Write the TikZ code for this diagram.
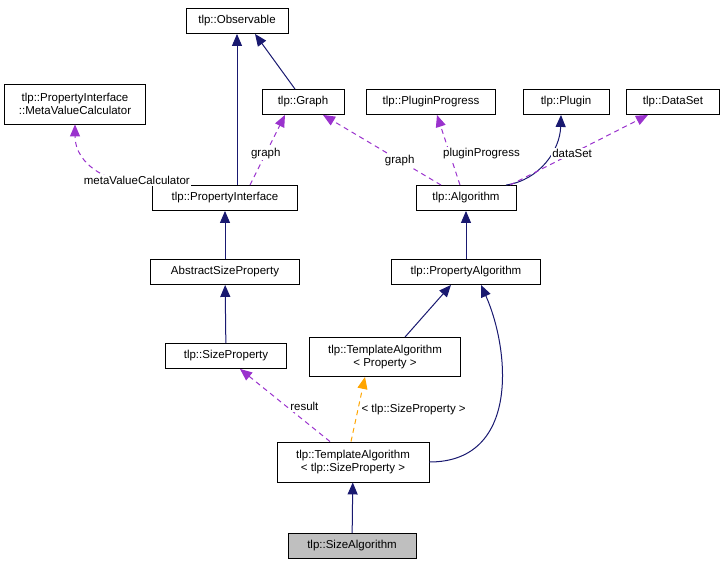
\documentclass[tikz,border=0pt]{standalone}
\usepackage{fontspec}
\setmainfont{Liberation Sans}
\usetikzlibrary{arrows.meta}
\begin{document}
\begin{tikzpicture}[x=1pt,y=-1pt,
  box/.style={draw,fill=white,inner sep=0pt,line width=0.9pt,font=\fontsize{11.5}{13}\selectfont,align=center},
  inh/.style={draw={rgb,255:red,25;green,25;blue,112},line width=1pt,-{Triangle[width=10pt,length=12pt]}},
  use/.style={draw={rgb,255:red,154;green,50;blue,205},line width=1pt,dash pattern=on 5pt off 4pt,-{Triangle[width=10pt,length=12pt]}},
  tpl/.style={draw={rgb,255:red,255;green,165;blue,0},line width=1pt,dash pattern=on 5pt off 4pt,-{Triangle[width=10pt,length=12pt]}},
  lbl/.style={font=\fontsize{11.5}{13}\selectfont,fill=white,inner sep=1pt}]
\useasboundingbox (0,0) rectangle (725,564);
\node[box,minimum width=102,minimum height=25] (obs) at (237,21) {tlp::Observable};
\node[box,minimum width=141,minimum height=40] (mvc) at (75,104) {tlp::PropertyInterface\\::MetaValueCalculator};
\node[box,minimum width=82,minimum height=25] (graph) at (303,102) {tlp::Graph};
\node[box,minimum width=129,minimum height=25] (pp) at (431,102) {tlp::PluginProgress};
\node[box,minimum width=86,minimum height=25] (plugin) at (566,102) {tlp::Plugin};
\node[box,minimum width=93,minimum height=25] (ds) at (673,102) {tlp::DataSet};
\node[box,minimum width=145,minimum height=25] (pi) at (225,198) {tlp::PropertyInterface};
\node[box,minimum width=100,minimum height=25] (alg) at (466,198) {tlp::Algorithm};
\node[box,minimum width=149,minimum height=25] (asp) at (225,272) {AbstractSizeProperty};
\node[box,minimum width=149,minimum height=25] (pa) at (466,272) {tlp::PropertyAlgorithm};
\node[box,minimum width=121,minimum height=25] (sp) at (226,356) {tlp::SizeProperty};
\node[box,minimum width=151,minimum height=39] (tap) at (385,357) {tlp::TemplateAlgorithm\\< Property >};
\node[box,minimum width=152,minimum height=40] (tas) at (353,462) {tlp::TemplateAlgorithm\\< tlp::SizeProperty >};
\node[box,minimum width=128,minimum height=25,fill={rgb,255:red,191;green,191;blue,191}] (sa) at (352,546) {tlp::SizeAlgorithm};

\draw[inh] ([xshift=-8]graph.north) -- ([xshift=18]obs.south);
\draw[inh] (pi.north -| obs.south) -- (obs.south);
\draw[use] (pi.north west) .. controls (110,186) and (75,165) .. (mvc.south) node[lbl,pos=0.3,anchor=south,xshift=20,yshift=-6] {metaValueCalculator};
\draw[use] ([xshift=25]pi.north) -- ([xshift=-18]graph.south) node[lbl,pos=0.45] {graph};
\draw[use] ([xshift=-25]alg.north) -- ([xshift=20]graph.south) node[lbl,pos=0.35] {graph};
\draw[use] ([xshift=-6]alg.north) -- ([xshift=6]pp.south) node[lbl,pos=0.45,anchor=west,xshift=-8] {pluginProgress};
\draw[inh] ([xshift=40]alg.north) .. controls (540,180) and (560,150) .. ([xshift=-5]plugin.south);
\draw[use] ([xshift=44]alg.north) -- ([xshift=-25]ds.south) node[lbl,pos=0.45] {dataSet};
\draw[inh] (asp) -- (pi);
\draw[inh] (pa) -- (alg);
\draw[inh] (sp) -- (asp);
\draw[inh] ([xshift=20]tap.north) -- ([xshift=-15]pa.south);
\draw[inh] (tas.east) .. controls (520,462) and (510,350) .. ([xshift=15]pa.south);
\draw[use] ([xshift=-23]tas.north) -- ([xshift=14]sp.south) node[lbl,pos=0.48,anchor=west,xshift=2] {result};
\draw[tpl] ([xshift=-2]tas.north) -- ([xshift=-20]tap.south) node[lbl,pos=0.5,anchor=west,xshift=2] {< tlp::SizeProperty >};
\draw[inh] (sa) -- (tas);
\end{tikzpicture}
\end{document}
